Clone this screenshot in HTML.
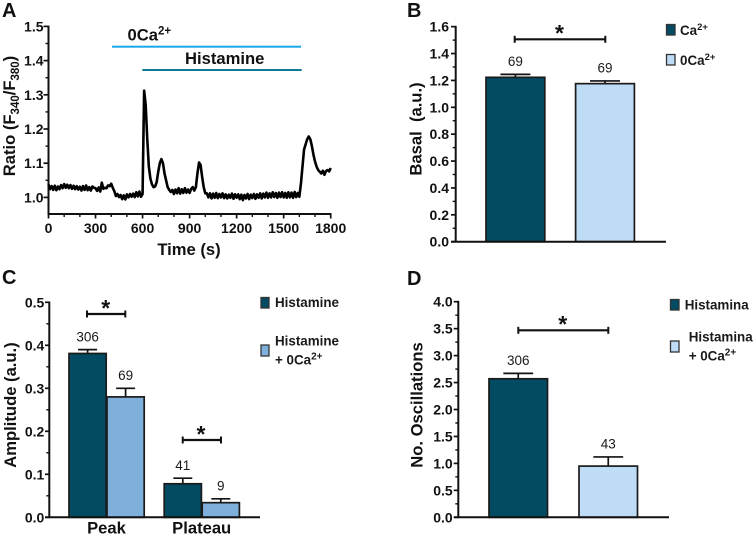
<!DOCTYPE html>
<html lang="en">
<head>
<meta charset="utf-8">
<title>Histamine calcium response figure</title>
<style>
html,body{margin:0;padding:0;background:#fff;}
svg{display:block;font-family:"Liberation Sans",sans-serif;}
.b{font-weight:bold;fill:#111;}
.tick{font-weight:bold;font-size:14px;fill:#111;}
.n{font-size:13.5px;fill:#1a1a1a;text-anchor:middle;}
.panel{font-weight:bold;font-size:20px;fill:#111;}
.leg{font-weight:bold;font-size:13.4px;fill:#1a1a1a;}
.ttl{font-weight:bold;font-size:16.6px;fill:#111;}
</style>
</head>
<body>
<svg id="fig" width="754" height="536" viewBox="0 0 754 536" xmlns="http://www.w3.org/2000/svg">
  <rect x="0" y="0" width="754" height="536" fill="#fff"/>

  <text class="panel" x="2" y="17">A</text>
  <text class="panel" x="407" y="17">B</text>
  <text class="panel" x="2" y="284">C</text>
  <text class="panel" x="407" y="285">D</text>

  <!-- Panel A annotations -->
  <text class="ttl" x="127.5" y="40.7">0Ca<tspan font-size="11.5" dy="-6">2+</tspan></text>
  <rect x="112" y="45.7" width="189" height="2" fill="#1aa7ec"/>
  <text class="ttl" x="185" y="64">Histamine</text>
  <rect x="142.3" y="69" width="159.4" height="2" fill="#0f7a93"/>
  <text class="ttl" text-anchor="middle" x="189" y="255">Time (s)</text>
  <text class="ttl" font-size="17" text-anchor="middle" transform="translate(15 116) rotate(-90)">Ratio (F<tspan font-size="11.5" dy="4">340</tspan><tspan dy="-4">/F</tspan><tspan font-size="11.5" dy="4">380</tspan><tspan dy="-4">)</tspan></text>

  <!-- Panel B labels and legend -->
  <text class="ttl" text-anchor="middle" xml:space="preserve" transform="translate(421.7 129) rotate(-90)">Basal  (a.u.)</text>
  <rect x="666.5" y="24.5" width="8.5" height="10.5" fill="#024b63" stroke="#333" stroke-width="1.3"/>
  <text class="leg" x="680" y="35" font-size="13">Ca<tspan font-size="9.5" dy="-5">2+</tspan></text>
  <rect x="666.5" y="54.5" width="8.5" height="10.5" fill="#bfdcf7" stroke="#333" stroke-width="1.3"/>
  <text class="leg" x="680" y="65" font-size="13">0Ca<tspan font-size="9.5" dy="-5">2+</tspan></text>

  <!-- Panel C labels and legend -->
  <text class="ttl" text-anchor="middle" transform="translate(16 405) rotate(-90)">Amplitude (a.u.)</text>
  <rect x="261" y="297.5" width="8" height="10.5" fill="#024b63" stroke="#333" stroke-width="1.3"/>
  <text class="leg" x="275" y="307">Histamine</text>
  <rect x="261" y="345" width="8" height="11" fill="#7fb0dc" stroke="#333" stroke-width="1.3"/>
  <text class="leg" x="275" y="345.3">Histamine</text>
  <text class="leg" x="275" y="364.3">+ 0Ca<tspan font-size="10" dy="-5">2+</tspan></text>

  <!-- Panel D labels and legend -->
  <text class="ttl" text-anchor="middle" transform="translate(422.3 405) rotate(-90)">No. Oscillations</text>
  <rect x="670.5" y="299.5" width="8.5" height="10.5" fill="#024b63" stroke="#333" stroke-width="1.3"/>
  <text class="leg" x="684.7" y="309.3">Histamina</text>
  <rect x="670.5" y="341" width="8.5" height="11" fill="#bfdcf7" stroke="#333" stroke-width="1.3"/>
  <text class="leg" x="688.7" y="341.7">Histamina</text>
  <text class="leg" x="688.7" y="360.7">+ 0Ca<tspan font-size="10" dy="-5">2+</tspan></text>
</svg>
<script>
// ---- Panel A data ----
const traceSampleSeconds = 10;
const traceRatio = [
1.038,1.024,1.033,1.022,1.034,1.021,1.032,1.024,1.036,1.027,
1.039,1.028,1.037,1.027,1.036,1.025,1.034,1.024,1.033,1.023,
1.031,1.020,1.033,1.022,1.035,1.021,1.030,1.020,1.032,1.028,
1.027,1.019,1.029,1.017,1.043,1.025,1.028,1.027,1.035,1.033,
1.040,1.028,1.018,1.004,1.010,1.001,1.007,0.995,1.006,0.994,
1.009,1.000,1.010,1.002,1.011,1.001,1.015,1.003,1.017,1.002,
1.010,1.312,1.270,1.170,1.090,1.055,1.038,1.030,1.032,1.045,
1.075,1.100,1.112,1.100,1.070,1.050,1.030,1.022,1.016,1.022,
1.010,1.023,1.012,1.027,1.011,1.024,1.013,1.027,1.014,1.023,
1.013,1.025,1.030,1.020,1.030,1.070,1.102,1.095,1.060,1.030,
1.012,1.012,1.000,1.012,0.997,1.011,0.999,1.013,0.998,1.010,
1.000,1.012,0.998,1.009,0.997,1.008,0.999,1.011,0.996,1.009,
0.999,1.009,0.995,1.008,0.992,1.007,0.997,1.010,0.995,1.008,
0.998,1.010,0.996,1.009,0.999,1.012,0.997,1.011,1.000,1.014,
0.999,1.012,1.000,1.015,1.001,1.013,0.999,1.014,1.001,1.015,
1.000,1.013,0.999,1.015,1.000,1.014,0.999,1.016,1.001,1.013,
1.002,1.040,1.090,1.140,1.155,1.170,1.178,1.170,1.150,1.125,
1.105,1.090,1.080,1.075,1.070,1.078,1.066,1.077,1.080,1.076,
1.086];
const traceXTicks = [0,300,600,900,1200,1500,1800];
const traceYTicks = ["1.0","1.1","1.2","1.3","1.4","1.5"];

// ---- Panel B data ----
const basalGroups = ["Ca2+","0Ca2+"];
const basalMeans = [1.223,1.176];
const basalErrorTops = [1.245,1.196];
const basalCounts = ["69","69"];
const basalYTicks = ["0.0","0.2","0.4","0.6","0.8","1.0","1.2","1.4","1.6"];

// ---- Panel C data ----
const amplitudeCategories = ["Peak","Plateau"];
const amplitudeHistamine = [0.381,0.078];
const amplitudeHistamineErrorTops = [0.390,0.091];
const amplitudeHistamineCounts = ["306","41"];
const amplitudeZeroCa = [0.280,0.034];
const amplitudeZeroCaErrorTops = [0.300,0.043];
const amplitudeZeroCaCounts = ["69","9"];
const amplitudeYTicks = ["0.0","0.1","0.2","0.3","0.4","0.5"];

// ---- Panel D data ----
const oscillationGroups = ["Histamina","Histamina + 0Ca2+"];
const oscillationMeans = [2.57,0.95];
const oscillationErrorTops = [2.67,1.12];
const oscillationCounts = ["306","43"];
const oscillationYTicks = ["0.0","0.5","1.0","1.5","2.0","2.5","3.0","3.5","4.0"];

const DARK = "#024b63", LIGHT = "#bfdcf7", MID = "#7fb0dc", INK = "#111";
const NS = "http://www.w3.org/2000/svg";
const fig = document.getElementById("fig");

function make(tag, name, props) {
  const el = document.createElementNS(NS, tag);
  for (const k in props) el.setAttribute(k, props[k]);
  
  
  fig.appendChild(el);
  return el;
}
function seg(name, x1, y1, x2, y2, w) {
  return make("line", name, {x1:x1, y1:y1, x2:x2, y2:y2, stroke:INK, "stroke-width":w});
}
function label(name, cls, x, y, str, anchor) {
  const el = make("text", name, {class:cls, x:x, y:y});
  if (anchor) el.setAttribute("text-anchor", anchor);
  el.textContent = str;
  return el;
}
function yAxis(prefix, axisX, yScale, ticks, bottomPx, labelEnd, tickStart) {
  seg(prefix + "-y-axis", axisX, yScale(+ticks[ticks.length-1]) - 0.8, axisX, bottomPx + 0.8, 2);
  ticks.forEach(function (t, i) {
    const y = yScale(+t);
    seg(prefix + "-y-tick", tickStart, y, axisX, y, 1.7);
    label(prefix + "-y-tick-label", "tick", labelEnd, y + 5, t, "end");
    if (i < ticks.length - 1) {
      const m = yScale((+t + +ticks[i+1]) / 2);
      seg(prefix + "-y-minor-tick", axisX - 3, m, axisX, m, 1.4);
    }
  });
}
function bar(prefix, x, w, yScale, base, mean, errTop, count, fill) {
  const top = yScale(mean), et = yScale(errTop), cx = x + w / 2, cap = w * 0.255;
  seg(prefix + "-error-stem", cx, et, cx, top, 1.7);
  seg(prefix + "-error-cap", cx - cap, et, cx + cap, et, 1.7);
  make("rect", prefix + "-bar", {x:x, y:top, width:w, height:base - top, fill:fill, stroke:"#1a1a1a", "stroke-width":1.7});
  label(prefix + "-count", "n", cx, et - 8.3, count);
}
function bracket(prefix, x1, x2, y, starX, starY) {
  seg(prefix + "-significance-line", x1, y, x2, y, 2.2);
  seg(prefix + "-significance-cap-left", x1, y - 3.5, x1, y + 3.5, 2);
  seg(prefix + "-significance-cap-right", x2, y - 3.5, x2, y + 3.5, 2);
  const s = label(prefix + "-significance-star", "b", starX, starY + 12, "*", "middle");
  s.setAttribute("font-size", "23");
}

// ---- Panel A ----
const aX = function (t) { return 48.5 + t / 1800 * 282.2; };
const aY = function (v) { return 197.4 - (v - 1) * 342; };
const aBottom = 214;
yAxis("trace", 48.5, aY, traceYTicks, aBottom, 43.5, 43.5);
seg("trace-x-axis", 47.5, aBottom, 331.5, aBottom, 2);
traceXTicks.forEach(function (t, i) {
  seg("trace-x-tick", aX(t), aBottom, aX(t), aBottom + 4.5, 1.7);
  label("trace-x-tick-label", "tick", aX(t), 233, String(t), "middle");
  if (i < traceXTicks.length - 1) {
    const step = (traceXTicks[i+1] - t) / 3;
    seg("trace-x-minor-tick", aX(t + step), aBottom, aX(t + step), aBottom + 3, 1.4);
    seg("trace-x-minor-tick", aX(t + 2 * step), aBottom, aX(t + 2 * step), aBottom + 3, 1.4);
  }
});
make("polyline", "ratio-trace", {
  points: traceRatio.map(function (v, i) {
    return aX(i * traceSampleSeconds).toFixed(2) + "," + aY(v).toFixed(2);
  }).join(" "),
  fill: "none", stroke: "#000", "stroke-width": 2.6, "stroke-linejoin": "round"
});

// ---- Panel B ----
const bBase = 241.7;
const bY = function (v) { return bBase - v * 134.4; };
basalMeans.forEach(function (m, i) {
  bar("basal-" + (i ? "zero-calcium" : "calcium"), 486 + i * 89.6, 58.8, bY, bBase, m, basalErrorTops[i], basalCounts[i], i ? LIGHT : DARK);
});
yAxis("basal", 455.7, bY, basalYTicks, bBase, 449, 451);
seg("basal-x-axis", 451, bBase, 666, bBase, 2);
bracket("basal", 514.7, 605.3, 39.3, 559.5, 29);

// ---- Panel C ----
const cBase = 517.3;
const cY = function (v) { return cBase - v * 430; };
amplitudeCategories.forEach(function (c, i) {
  const gx = 69 + i * 95.2;
  bar("amplitude-" + c.toLowerCase() + "-histamine", gx, 37.2, cY, cBase, amplitudeHistamine[i], amplitudeHistamineErrorTops[i], amplitudeHistamineCounts[i], DARK);
  bar("amplitude-" + c.toLowerCase() + "-zero-calcium", gx + 38, 37.2, cY, cBase, amplitudeZeroCa[i], amplitudeZeroCaErrorTops[i], amplitudeZeroCaCounts[i], MID);
  const t = label("category-label-" + c.toLowerCase(), "ttl", gx + 37.5, 533.3, c, "middle");
  t.setAttribute("font-size", "16.2");
});
yAxis("amplitude", 49.3, cY, amplitudeYTicks, cBase, 44.3, 45);
seg("amplitude-x-axis", 45, cBase, 260, cBase, 2);
bracket("amplitude-peak", 87, 125.3, 314, 105.7, 304);
bracket("amplitude-plateau", 182.7, 221, 440, 201, 430);

// ---- Panel D ----
const dBase = 517.3;
const dY = function (v) { return dBase - v * 53.9; };
oscillationMeans.forEach(function (m, i) {
  bar("oscillations-" + (i ? "zero-calcium" : "histamina"), 489 + i * 90, 58.5, dY, dBase, m, oscillationErrorTops[i], oscillationCounts[i], i ? LIGHT : DARK);
});
yAxis("oscillations", 458.3, dY, oscillationYTicks, dBase, 452.7, 453.7);
seg("oscillations-x-axis", 454, dBase, 669, dBase, 2);
bracket("oscillations", 518.3, 608.3, 330.3, 562.7, 320);
</script>
</body>
</html>
